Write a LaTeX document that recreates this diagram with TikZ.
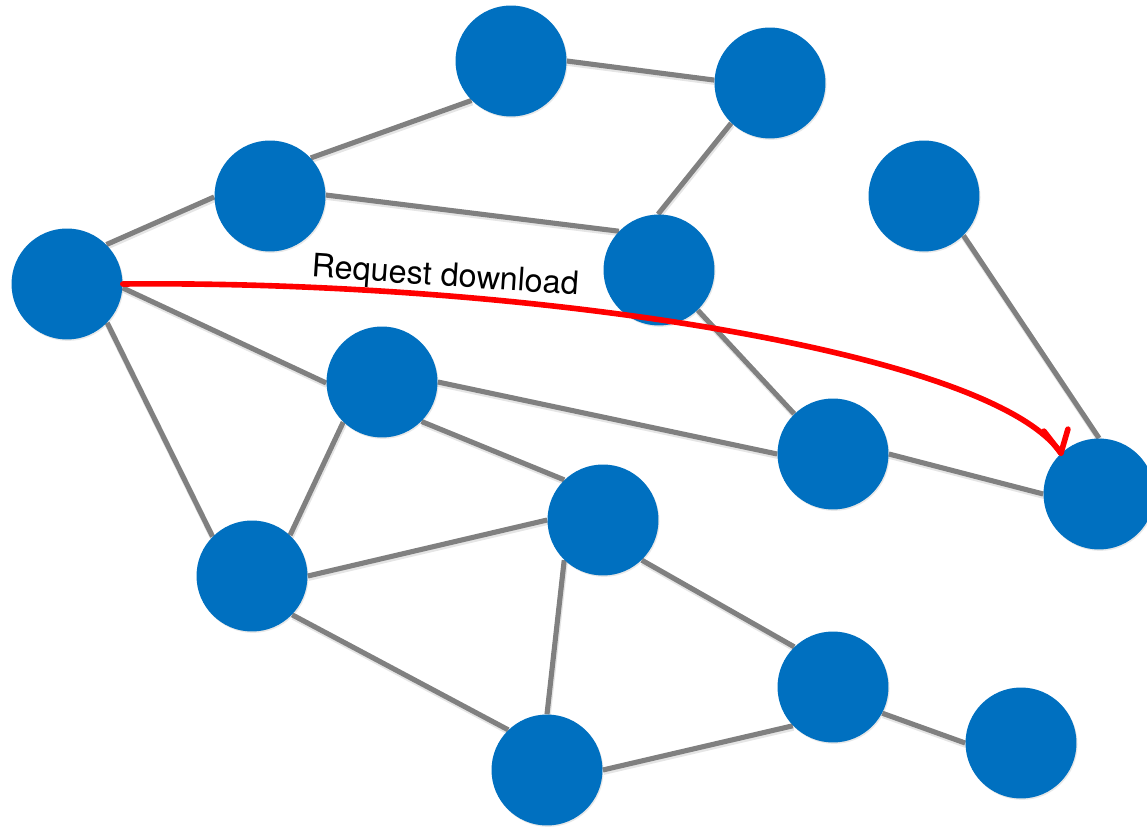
\documentclass[tikz,border=0pt]{standalone}
\usepackage{fontspec}
\setmainfont{TeX Gyre Heros}
\usetikzlibrary{backgrounds,shadows}
\definecolor{peerblue}{HTML}{0070C0}
\definecolor{linkgray}{HTML}{808080}
\definecolor{reqred}{HTML}{FF0000}
\tikzset{
  peer/.style={circle,fill=peerblue,draw=none,minimum size=2.22cm,inner sep=0pt,
    drop shadow={opacity=0.18,shadow xshift=0.6pt,shadow yshift=-0.8pt}},
  link/.style={draw=linkgray,line width=2.9pt,
    preaction={draw=black,opacity=0.10,line width=3.4pt,
      transform canvas={shift={(0.4pt,-1.1pt)}}}},
  request/.style={draw=reqred,line width=3.2pt,line cap=round,line join=round},
}
\begin{document}
\begin{tikzpicture}[x=0.02cm,y=-0.02cm]
  \useasboundingbox (0,0) rectangle (1147,827);
  % peers
  \node[peer] (a) at (511,61) {};
  \node[peer] (b) at (770,83) {};
  \node[peer] (c) at (270,196) {};
  \node[peer] (d) at (924,196) {};
  \node[peer] (e) at (67,284) {};
  \node[peer] (f) at (659,270) {};
  \node[peer] (g) at (382,382) {};
  \node[peer] (h) at (833,454) {};
  \node[peer] (i) at (1099,494) {};
  \node[peer] (j) at (603,520) {};
  \node[peer] (k) at (252,576) {};
  \node[peer] (l) at (833,687) {};
  \node[peer] (m) at (1021,743) {};
  \node[peer] (n) at (547,770) {};
  % overlay links, rim to rim
  \begin{scope}[on background layer]
    \foreach \u/\v in {a.0/b.177, a.225/c.43, b.226/f.91, c.181/e.45, c.1/f.136,
                       e.-4/g.181, e.-44/k.135, g.226/k.47, g.0/h.180, g.-45/j.134,
                       f.-46/h.134, h.0/i.180, d.-45/i.90, k.0/j.180, k.-44/n.134,
                       j.226/n.90, j.-46/l.134, l.224/n.0, l.-28/m.180}
      \draw[link] (\u) -- (\v);
  \end{scope}
  % download request
  \draw[request] (e.east) .. controls (520,280) and (990,350) .. (i.133);
  \draw[request] (i.133) ++(-17,-22) -- (i.133) -- ++(7,-24);
  \node[rotate=-3.9,anchor=base,font=\fontsize{18.4}{21}\selectfont,inner sep=0pt] (lbl) at (445,286) {Request download};
\end{tikzpicture}
\end{document}
